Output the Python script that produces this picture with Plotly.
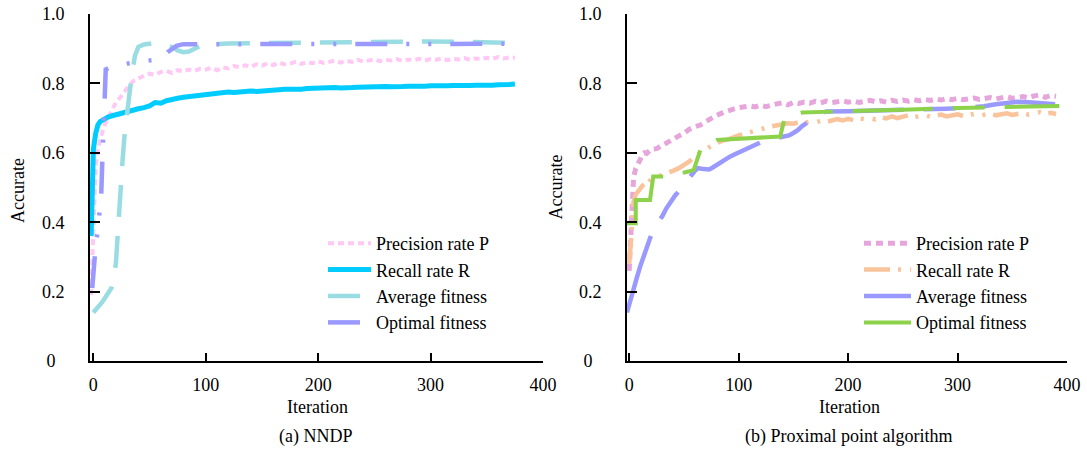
import plotly.graph_objs as go

# ---- (a) NNDP ----
nndp_x = [-2, -1, 0, 2, 4, 6, 8, 10, 13, 16, 20, 24, 28, 32, 36, 40] + list(range(45, 380, 5))
nndp_precision = [0.19, 0.30, 0.42, 0.56, 0.61, 0.64, 0.66, 0.68, 0.70, 0.72, 0.745, 0.76, 0.78, 0.795, 0.808, 0.815,
                  0.822, 0.828, 0.825, 0.833, 0.836, 0.830, 0.838, 0.835, 0.840, 0.836,
                  0.842, 0.840, 0.845, 0.838, 0.846, 0.843, 0.850, 0.847, 0.852, 0.848,
                  0.855, 0.851, 0.858, 0.853, 0.860, 0.855, 0.857, 0.862, 0.856, 0.861,
                  0.858, 0.864, 0.859, 0.862, 0.866, 0.860, 0.865, 0.862, 0.868, 0.863,
                  0.866, 0.869, 0.864, 0.868, 0.866, 0.870, 0.865, 0.869, 0.867, 0.871,
                  0.866, 0.870, 0.868, 0.872, 0.867, 0.871, 0.869, 0.873, 0.868, 0.872,
                  0.870, 0.874, 0.871, 0.876, 0.872, 0.875, 0.874]
nndp_recall = [0.36, 0.59, 0.61, 0.655, 0.68, 0.69, 0.695, 0.70, 0.703, 0.706, 0.71, 0.713, 0.718, 0.72, 0.723, 0.727,
               0.730, 0.735, 0.745, 0.743, 0.750, 0.755, 0.757, 0.760, 0.762, 0.765,
               0.767, 0.769, 0.770, 0.772, 0.773, 0.775, 0.774, 0.776, 0.777, 0.778,
               0.777, 0.779, 0.781, 0.780, 0.782, 0.783, 0.782, 0.784, 0.783, 0.785,
               0.786, 0.785, 0.787, 0.786, 0.788, 0.787, 0.789, 0.788, 0.789, 0.790,
               0.789, 0.791, 0.790, 0.791, 0.790, 0.792, 0.791, 0.792, 0.791, 0.793,
               0.792, 0.793, 0.792, 0.794, 0.793, 0.794, 0.793, 0.795, 0.794, 0.795,
               0.794, 0.796, 0.795, 0.796, 0.795, 0.797, 0.798]
nndp_avg_x = [0, 4, 8, 12, 16, 18, 20, 22, 24, 26, 28, 31, 34, 37, 40, 45, 50, 55, 60, 65, 70, 75, 80, 85, 90,
              95, 100, 110, 120, 140, 160, 180, 200, 220, 240, 260, 280, 300, 320, 340, 360, 375]
nndp_avg = [0.14, 0.155, 0.17, 0.19, 0.21, 0.24, 0.28, 0.38, 0.50, 0.58, 0.66, 0.75, 0.82, 0.88, 0.905, 0.912,
            0.916, 0.917, 0.914, 0.91, 0.905, 0.895, 0.89, 0.892, 0.90, 0.908, 0.912, 0.914, 0.915, 0.916,
            0.917, 0.918, 0.918, 0.919, 0.92, 0.92, 0.921, 0.921, 0.92, 0.92, 0.918, 0.917]
nndp_opt_x = [-1, 0, 1, 2, 4, 6, 7, 8, 9, 10, 11, 14, 20, 30, 40, 50, 60, 66, 70, 74, 80, 100, 150, 200,
              250, 300, 350, 368]
nndp_opt = [0.21, 0.25, 0.30, 0.33, 0.38, 0.43, 0.48, 0.58, 0.70, 0.80, 0.84, 0.845, 0.85, 0.857, 0.862,
            0.866, 0.87, 0.89, 0.90, 0.908, 0.913, 0.913, 0.913, 0.913, 0.914, 0.914, 0.914, 0.914]

# ---- (b) Proximal point algorithm ----
ppa_x = [0, 1, 2, 3, 4, 6, 8, 10, 12, 14, 16, 18] + list(range(20, 395, 5))
ppa_precision = [0.26, 0.33, 0.42, 0.50, 0.53, 0.555, 0.565, 0.58, 0.595, 0.60, 0.598, 0.605,
                 0.61, 0.612, 0.622, 0.628, 0.64, 0.648, 0.656, 0.668, 0.675, 0.68,
                 0.69, 0.70, 0.708, 0.715, 0.722, 0.726, 0.73, 0.733, 0.735, 0.732,
                 0.737, 0.733, 0.738, 0.741, 0.744, 0.738, 0.745, 0.742, 0.746, 0.743,
                 0.748, 0.744, 0.749, 0.745, 0.747, 0.75, 0.746, 0.749, 0.745, 0.748,
                 0.751, 0.747, 0.750, 0.746, 0.751, 0.748, 0.752, 0.749, 0.753, 0.75,
                 0.754, 0.751, 0.755, 0.752, 0.756, 0.753, 0.757, 0.753, 0.756, 0.758,
                 0.754, 0.757, 0.759, 0.755, 0.758, 0.762, 0.757, 0.760, 0.762, 0.758,
                 0.764, 0.766, 0.76, 0.765, 0.763]
ppa_recall = [0.28, 0.31, 0.36, 0.42, 0.46, 0.48, 0.49, 0.50, 0.505, 0.51, 0.52, 0.515,
              0.525, 0.53, 0.535, 0.54, 0.548, 0.555, 0.565, 0.575, 0.59, 0.60,
              0.612, 0.62, 0.628, 0.635, 0.638, 0.645, 0.65, 0.655, 0.66, 0.664,
              0.668, 0.672, 0.676, 0.679, 0.682, 0.685, 0.684, 0.688, 0.686, 0.69,
              0.687, 0.692, 0.689, 0.694, 0.697, 0.693, 0.698, 0.694, 0.699, 0.697,
              0.70, 0.696, 0.703, 0.699, 0.705, 0.70, 0.704, 0.708, 0.702, 0.706,
              0.709, 0.704, 0.707, 0.71, 0.705, 0.708, 0.711, 0.706, 0.709, 0.712,
              0.707, 0.71, 0.713, 0.708, 0.711, 0.714, 0.709, 0.712, 0.715, 0.71,
              0.713, 0.717, 0.711, 0.715, 0.712]
ppa_avg_x = [-2, 0, 2, 4, 7, 10, 13, 16, 19, 22, 26, 30, 34, 38, 42, 45, 50, 57, 60, 63,
             66, 70, 73, 76, 80, 86, 92, 98, 104, 110, 116, 122, 128, 134, 141, 146, 150, 154, 158, 161,
             165, 172, 180, 200, 220, 240, 257, 275, 290, 305, 315, 324, 335, 345, 355, 365, 375, 385, 396]
ppa_avg = [0.14, 0.165, 0.183, 0.205, 0.24, 0.272, 0.30, 0.33, 0.358, 0.38, 0.40, 0.416, 0.44, 0.46, 0.477,
           0.488, 0.51, 0.536, 0.548, 0.556, 0.554, 0.551, 0.552, 0.557, 0.565, 0.578, 0.589, 0.598, 0.607,
           0.615, 0.623, 0.633, 0.638, 0.641, 0.645, 0.65, 0.657, 0.665, 0.677, 0.685, 0.692, 0.708, 0.719,
           0.72, 0.721, 0.723, 0.724, 0.725, 0.727, 0.729, 0.731, 0.734, 0.74, 0.745, 0.747, 0.746, 0.744,
           0.742, 0.738]
ppa_opt_x = [-2, 6, 6, 19, 22, 36, 54, 59, 66, 80, 138, 142, 158, 180, 200, 250, 270, 300, 330, 360, 393]
ppa_opt = [0.397, 0.397, 0.464, 0.464, 0.532, 0.532, 0.546, 0.551, 0.618, 0.637, 0.647, 0.70, 0.716,
           0.719, 0.72, 0.724, 0.727, 0.729, 0.731, 0.734, 0.735]

y_ticks = [0, 0.2, 0.4, 0.6, 0.8, 1.0]
y_ticktext = ['0\u00a0\u00a0', '0.2', '0.4', '0.6', '0.8', '1.0']
x_ticks = [0, 100, 200, 300, 400]

W, H = 1087, 450
FONT = "Liberation Serif, Times New Roman, Times, serif"


def px(x):
    # pixel -> paper fraction
    return x / W


fig = go.Figure()

# left panel
fig.add_trace(go.Scatter(x=nndp_x, y=nndp_precision, mode='lines', name='Precision rate P',
                         line=dict(color='#FFC8F5', width=4, dash='6px,4px'), xaxis='x', yaxis='y', legend='legend'))
fig.add_trace(go.Scatter(x=nndp_x, y=nndp_recall, mode='lines', name='Recall rate R',
                         line=dict(color='#00CCFF', width=5), xaxis='x', yaxis='y', legend='legend'))
fig.add_trace(go.Scatter(x=nndp_avg_x, y=nndp_avg, mode='lines', name='Average fitness',
                         line=dict(color='#99DDE3', width=4.5, dash='32px,19px'), xaxis='x', yaxis='y', legend='legend'))
fig.add_trace(go.Scatter(x=nndp_opt_x, y=nndp_opt, mode='lines', name='Optimal fitness',
                         line=dict(color='#9999FF', width=4.5, dash='32px,19px,3px,19px,3px,19px'),
                         xaxis='x', yaxis='y', legend='legend'))

# right panel
fig.add_trace(go.Scatter(x=ppa_x, y=ppa_precision, mode='lines', name='Precision rate P',
                         line=dict(color='#E6A6DC', width=5, dash='7px,5px'), xaxis='x2', yaxis='y2', legend='legend2'))
fig.add_trace(go.Scatter(x=ppa_x, y=ppa_recall, mode='lines', name='Recall rate R',
                         line=dict(color='#F9C39C', width=4.5, dash='26px,8px,3px,9px,3px,8px'),
                         xaxis='x2', yaxis='y2', legend='legend2'))
fig.add_trace(go.Scatter(x=ppa_avg_x, y=ppa_avg, mode='lines', name='Average fitness',
                         line=dict(color='#9999FF', width=4.5, dash='80px,20px,32px,20px'),
                         xaxis='x2', yaxis='y2', legend='legend2'))
fig.add_trace(go.Scatter(x=ppa_opt_x, y=ppa_opt, mode='lines', name='Optimal fitness',
                         line=dict(color='#8CD24A', width=4, dash='80px,20px,32px,20px'),
                         xaxis='x2', yaxis='y2', legend='legend2'))

axis_style = dict(showline=True, linecolor='black', linewidth=2, ticks='inside', tickcolor='black',
                  tickwidth=2, showgrid=False, zeroline=False, ticklabeloverflow='allow', automargin=False,
                  tickfont=dict(family=FONT, size=18, color='black'))
x_style = dict(axis_style, tickvals=x_ticks, ticklen=8, ticklabelstandoff=6)
y_style = dict(axis_style, range=[0, 1.0], tickvals=y_ticks, ticktext=y_ticktext, ticklen=10,
               ticklabelstandoff=20, domain=[0, 1])

legend_style = dict(xanchor='left', yanchor='top', bgcolor='rgba(0,0,0,0)', borderwidth=0,
                    font=dict(family=FONT, size=18, color='black'))

fig.update_layout(
    width=W, height=H,
    margin=dict(l=0, r=0, t=14, b=H - 361, autoexpand=False),
    paper_bgcolor='white', plot_bgcolor='white',
    font=dict(family=FONT, size=18, color='black'),
    xaxis=dict(x_style, domain=[px(90), px(543)], range=[-3, 400], anchor='y'),
    yaxis=dict(y_style, anchor='x'),
    xaxis2=dict(x_style, domain=[px(627), px(1067)], range=[-2, 400], anchor='y2'),
    yaxis2=dict(y_style, anchor='x2'),
    legend=dict(legend_style, x=px(323), y=0.392, itemwidth=43),
    legend2=dict(legend_style, x=px(859), y=0.392, itemwidth=47),
    showlegend=True,
)

annos = [
    dict(text='Accurate', x=px(18), y=0.49, textangle=-90),
    dict(text='Accurate', x=px(555), y=0.50, textangle=-90),
    dict(text='Iteration', x=px(318), y=-0.133),
    dict(text='Iteration', x=px(849), y=-0.133),
    dict(text='(a) NNDP', x=px(316), y=-0.219),
    dict(text='(b) Proximal point algorithm', x=px(848), y=-0.219),
]
for a in annos:
    fig.add_annotation(xref='paper', yref='paper', showarrow=False, xanchor='center', yanchor='middle',
                       font=dict(family=FONT, size=18, color='black'), **a)

# drop the default 8px page margin so the figure fills the window exactly
fig.write_html("out.html", config={'displayModeBar': False},
               post_script="document.body.style.margin='0';document.body.style.overflow='hidden';")
